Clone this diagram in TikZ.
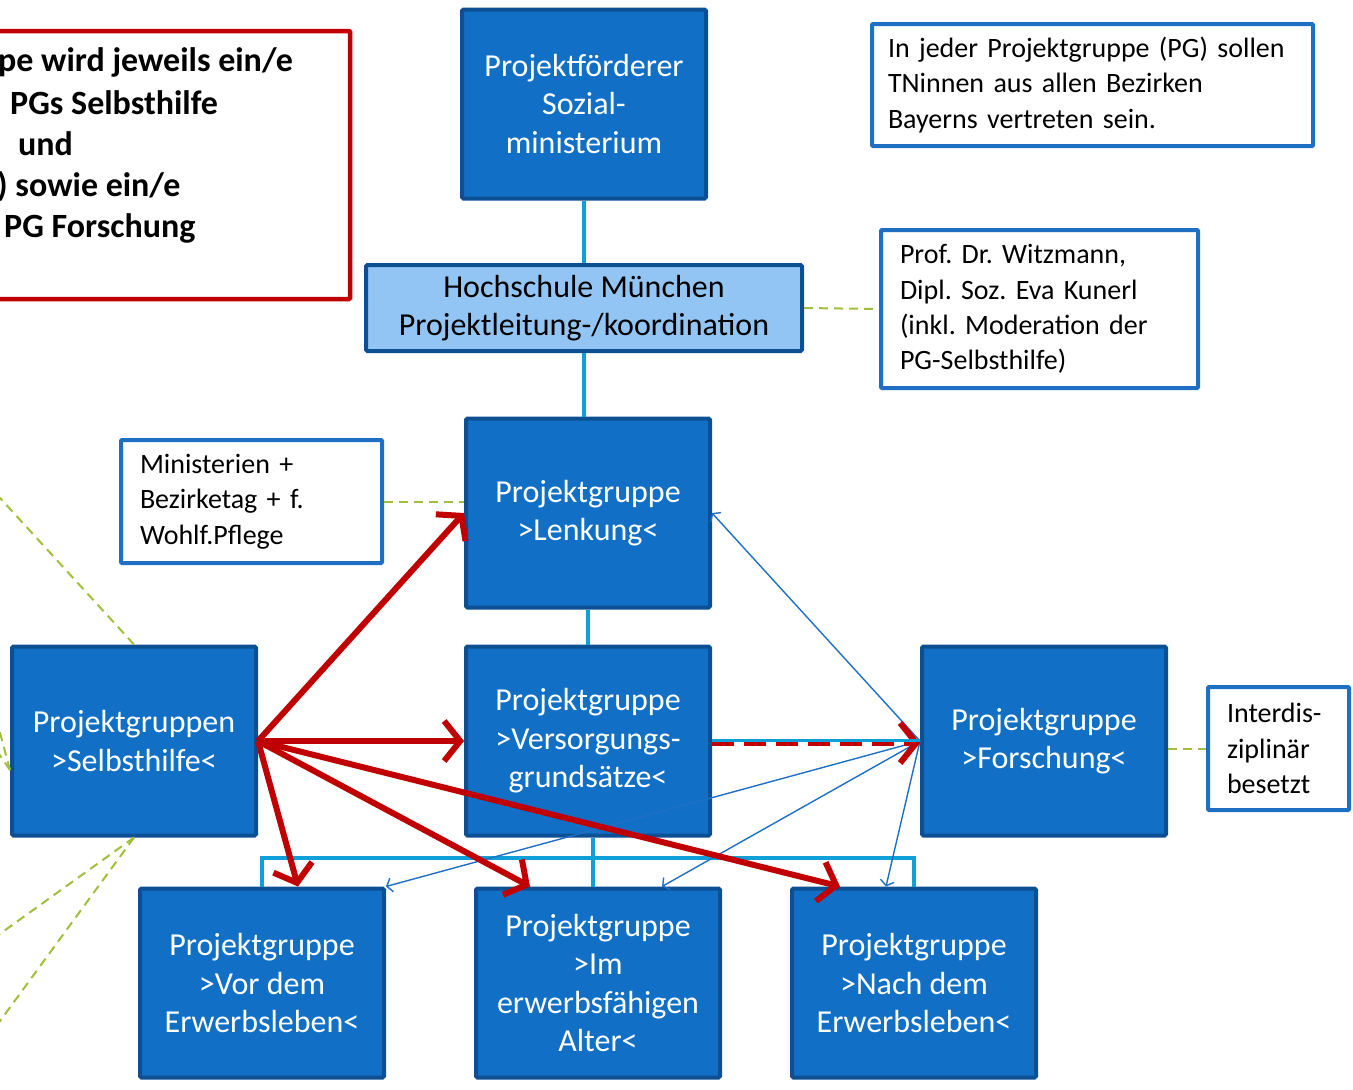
\documentclass[tikz,border=0pt]{standalone}
\usepackage{fontspec}
\setmainfont{Carlito}
\usetikzlibrary{arrows.meta}
\frenchspacing
\definecolor{boxblue}{HTML}{1170C6}
\definecolor{boxedge}{HTML}{0C4F92}
\definecolor{lightblue}{HTML}{92C5F3}
\definecolor{noteedge}{HTML}{1F6FC4}
\definecolor{linkcyan}{HTML}{10A0D8}
\definecolor{darkred}{HTML}{C00000}
\definecolor{olive}{HTML}{A2BE3E}

\begin{document}
\begin{tikzpicture}[x = 1pt, y = -1pt]
\tikzstyle{GroupStyle}=[shape = rectangle, draw = boxedge, fill = boxblue,
                        line width = 4pt, rounded corners = 1.5pt,
                        text = white, align = center,
                        font = \fontsize{32}{38.5}\selectfont,
                        minimum width = 244pt, minimum height = 189pt]
\tikzstyle{NoteStyle}=[shape = rectangle, draw = noteedge, fill = white,
                       line width = 4pt, rounded corners = 1pt,
                       align = left, inner xsep = 19pt,
                       font = \fontsize{28}{35.3}\selectfont]
\tikzstyle{HintStyle}=[shape = rectangle, draw = darkred, line width = 4.5pt,
                       rounded corners = 1pt]
\tikzstyle{HintText}=[anchor = west, inner sep = 0pt,
                      font = \fontsize{34}{41.5}\selectfont\bfseries]
\tikzstyle{BusStyle}=[draw = linkcyan, line width = 4pt]
\tikzstyle{GuideStyle}=[draw = olive, line width = 2pt, dash pattern = on 9pt off 6pt]
\tikzstyle{FlowStyle}=[draw = darkred, line width = 6pt,
                       -{Straight Barb[length = 16pt, width = 40pt]}]
\tikzstyle{FeedStyle}=[draw = noteedge, line width = 1.4pt,
                       -{Straight Barb[length = 5pt, width = 14pt]}]

\useasboundingbox (0,0) rectangle (1353,1090);
\clip (0,0) rectangle (1353,1090);

\node[HintStyle, minimum width = 648pt, minimum height = 268pt] (hint) at (26,165) {};
\node[HintText] (h1) at (-2,62) {pe wird jeweils ein/e};
\node[HintText] (h2) at (10,103) {PGs Selbsthilfe};
\node[HintText] (h3) at (18,144) {und};
\node[HintText] (h4) at (-3,186) {) sowie ein/e};
\node[HintText] (h5) at (4,228) {PG Forschung};

\node[GroupStyle] (foerderer) at (584,104) {Projektförderer\\Sozial-\\ministerium};
\node[GroupStyle, fill = lightblue, text = black,
      minimum width = 436pt, minimum height = 86pt] (hochschule) at (584,308)
      {Hochschule München\\Projektleitung-/koordination};
\node[GroupStyle] (lenkung) at (588,513) {Projektgruppe\\>Lenkung<};
\node[GroupStyle] (versorgung) at (588,741) {Projektgruppe\\>Versorgungs-\\grundsätze<};
\node[GroupStyle] (selbsthilfe) at (134,741) {Projektgruppen\\>Selbsthilfe<};
\node[GroupStyle] (forschung) at (1044,741) {Projektgruppe\\>Forschung<};
\node[GroupStyle] (vor) at (262,983) {Projektgruppe\\>Vor dem\\Erwerbsleben<};
\node[GroupStyle] (im) at (598,983) {Projektgruppe\\>Im\\erwerbsfähigen\\Alter<};
\node[GroupStyle] (nach) at (914,983) {Projektgruppe\\>Nach dem\\Erwerbsleben<};

\node[NoteStyle, text width = 409pt, inner xsep = 16pt, minimum height = 122pt] (tn) at (1092.5,85)
      {In jeder Projektgruppe (PG) sollen\\TNinnen aus allen Bezirken\\Bayerns vertreten sein.};
\node[NoteStyle, text width = 279pt, minimum height = 158pt] (prof) at (1039.5,309)
      {Prof. Dr. Witzmann,\\Dipl. Soz. Eva Kunerl\\(inkl. Moderation der\\PG-Selbsthilfe)};
\node[NoteStyle, text width = 223pt, minimum height = 123pt] (minist) at (251.5,501.5)
      {Ministerien +\\Bezirketag + f.\\Wohlf.Pflege};
\node[NoteStyle, text width = 103pt, minimum height = 123pt] (interdis) at (1278.5,748.5)
      {Interdis-\\ziplinär\\besetzt};

\coordinate (g1) at (-10,487);
\coordinate (g2) at (-12,688);
\coordinate (g3) at (-12,738);
\coordinate (g4) at (-10,941);
\coordinate (g5) at (-8,1032);
\draw[GuideStyle] (hochschule.east) -- (prof.west);
\draw[GuideStyle] (minist.east) -- (minist.east -| lenkung.west);
\draw[GuideStyle] (interdis.west -| forschung.east) -- (interdis.west);
\draw[GuideStyle] (selbsthilfe.north) -- (g1);
\draw[GuideStyle] ([yshift = -29pt]selbsthilfe.west) -- (g2);
\draw[GuideStyle] ([yshift = -29pt]selbsthilfe.west) -- (g3);
\draw[GuideStyle] (selbsthilfe.south) -- (g4);
\draw[GuideStyle] (selbsthilfe.south) -- (g5);

\draw[BusStyle] (foerderer.south) -- (hochschule.north);
\draw[BusStyle] (hochschule.south) -- (hochschule.south |- lenkung.north);
\draw[BusStyle] (lenkung.south) -- (versorgung.north);
\draw[BusStyle] (vor.north) -- ++(0,-29) -| (nach.north);
\draw[BusStyle] ([xshift = 5pt]versorgung.south) -- ([xshift = 5pt]versorgung.south |- im.north);

\draw[FeedStyle] (forschung.west) -- (lenkung.east);
\draw[FeedStyle] (forschung.west) -- (vor.north east);
\draw[FeedStyle] (forschung.west) -- ([xshift = 64pt]im.north);
\draw[FeedStyle] (forschung.west) -- ([xshift = -28pt]nach.north);

\draw[FlowStyle] (selbsthilfe.east) -- (lenkung.west);
\draw[FlowStyle] (selbsthilfe.east) -- (versorgung.west);
\draw[FlowStyle] (selbsthilfe.east) -- ([xshift = 36pt]vor.north);
\draw[FlowStyle] (selbsthilfe.east) -- ([xshift = -68pt]im.north);
\draw[FlowStyle] (selbsthilfe.east) -- ([xshift = -74pt]nach.north);
\draw[FlowStyle, dash pattern = on 22pt off 10pt]
      ([yshift = -2pt]versorgung.east) -- ([yshift = -2pt]forschung.west);
\draw[draw = linkcyan, line width = 3pt] ([yshift = 1pt]versorgung.east) -- ([yshift = 1pt]forschung.west);
\end{tikzpicture}
\end{document}
